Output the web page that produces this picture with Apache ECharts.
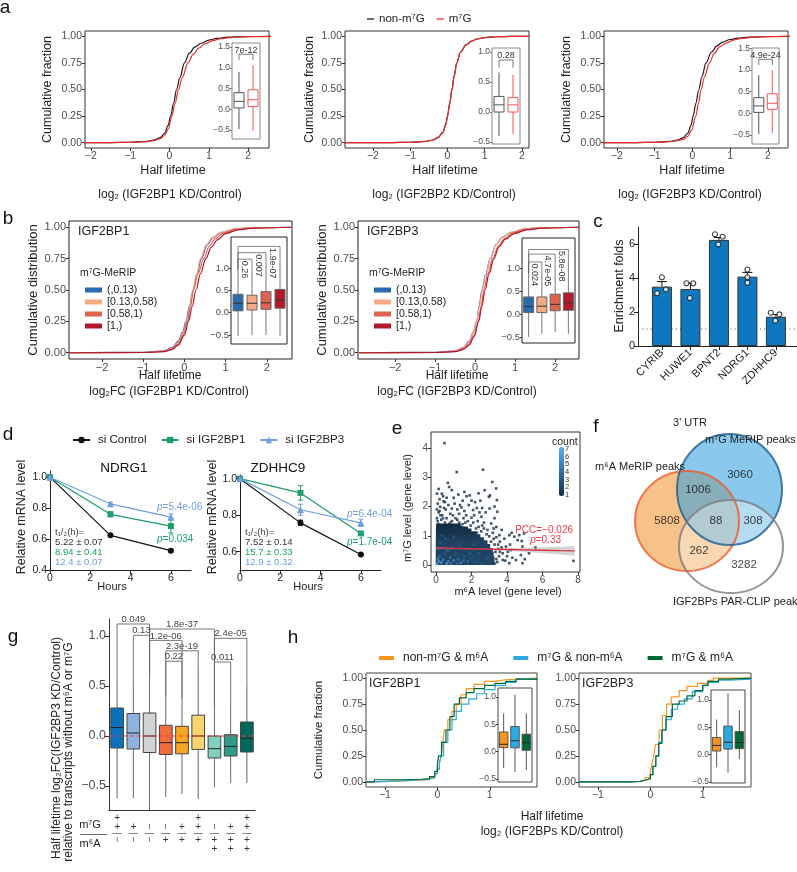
<!DOCTYPE html>
<html><head><meta charset="utf-8">
<script src="https://cdn.jsdelivr.net/npm/echarts@6/dist/echarts.min.js"></script>
<style>html,body{margin:0;padding:0;background:#fff}#c{width:797px;height:872px}</style>
</head><body><div id="c"></div><script>
// ================= DATA =================
// Panel a: ECDF of half-life change (x = log2 ratio, F = cumulative fraction)
const a1NonX=[-2.2,-1.5,-1,-0.6,-0.4,-0.25,-0.12,-0.04,0.03,0.1,0.18,0.26,0.38,0.5,0.65,0.8,1.0,1.2,1.5,1.9,2.6];
const a1NonF=[0,0.001,0.004,0.012,0.025,0.045,0.09,0.16,0.25,0.37,0.5,0.61,0.75,0.84,0.9,0.935,0.965,0.98,0.992,0.998,1];
const a1M7X=[-2.2,-1.5,-1,-0.6,-0.4,-0.25,-0.12,-0.03,0.06,0.14,0.23,0.32,0.47,0.6,0.75,0.9,1.1,1.3,1.6,2.0,2.6];
const a1M7F=[0,0.001,0.003,0.01,0.02,0.037,0.07,0.13,0.25,0.37,0.5,0.61,0.75,0.83,0.89,0.93,0.96,0.978,0.99,0.997,1];
const a2NonX=[-2.8,-1.5,-1,-0.6,-0.4,-0.25,-0.12,-0.04,0.0,0.06,0.12,0.18,0.25,0.35,0.5,0.65,0.8,1.0,1.3,1.7,2.2];
const a2NonF=[0,0.001,0.004,0.012,0.025,0.05,0.1,0.18,0.25,0.37,0.5,0.63,0.75,0.85,0.92,0.955,0.975,0.988,0.996,0.999,1];
const a2M7X=[-2.8,-1.5,-1,-0.6,-0.4,-0.25,-0.12,-0.04,0.0,0.06,0.12,0.18,0.25,0.35,0.5,0.65,0.8,1.0,1.3,1.7,2.2];
const a2M7F=[0,0.001,0.004,0.011,0.023,0.048,0.095,0.17,0.24,0.36,0.49,0.62,0.75,0.85,0.92,0.955,0.975,0.988,0.996,0.999,1];
const a3NonX=[-2.4,-1.5,-1,-0.6,-0.4,-0.25,-0.12,-0.04,0.02,0.09,0.17,0.25,0.36,0.5,0.65,0.8,1.0,1.2,1.5,1.9,2.6];
const a3NonF=[0,0.001,0.004,0.012,0.025,0.045,0.09,0.16,0.25,0.37,0.5,0.62,0.75,0.85,0.91,0.945,0.97,0.983,0.993,0.998,1];
const a3M7X=[-2.4,-1.5,-1,-0.6,-0.4,-0.25,-0.12,-0.02,0.09,0.16,0.23,0.32,0.45,0.58,0.72,0.88,1.08,1.3,1.6,2.0,2.6];
const a3M7F=[0,0.001,0.003,0.009,0.018,0.032,0.06,0.12,0.25,0.37,0.5,0.62,0.75,0.84,0.9,0.935,0.965,0.98,0.992,0.998,1];
// inset boxplots [lowWhisker, Q1, median, Q3, highWhisker] for non-m7G, m7G
const a1Box=[[-0.48,0.03,0.19,0.40,0.9],[-0.52,0.065,0.23,0.47,1.06]];
const a2Box=[[-0.4,0.0,0.12,0.26,0.66],[-0.37,0.0,0.12,0.24,0.62]];
const a3Box=[[-0.48,0.02,0.17,0.36,0.88],[-0.46,0.09,0.23,0.45,1.0]];
const aPvals=['7e-12','0.28','4.9e-24'];
const aSeriesNames=['non-m⁷G','m⁷G'];

// Panel b: ECDF per m7G-MeRIP group
const bNames=['(,0.13)','[0.13,0.58)','[0.58,1)','[1,)'];
const b1X=[
 [-2.8,-1,-0.5,-0.3,-0.15,-0.05,0.04,0.12,0.21,0.3,0.41,0.55,0.7,0.9,1.2,1.6,2.6],
 [-2.8,-1,-0.5,-0.3,-0.15,-0.04,0.06,0.13,0.21,0.29,0.39,0.53,0.68,0.88,1.2,1.6,2.6],
 [-2.8,-1,-0.5,-0.3,-0.15,-0.03,0.075,0.15,0.22,0.33,0.47,0.6,0.75,0.95,1.25,1.7,2.6],
 [-2.8,-1,-0.5,-0.3,-0.15,0,0.1,0.19,0.28,0.39,0.52,0.65,0.8,1.0,1.3,1.7,2.6]];
const b1F=[
 [0,0.003,0.015,0.04,0.09,0.16,0.25,0.37,0.5,0.62,0.75,0.86,0.92,0.96,0.985,0.996,1],
 [0,0.003,0.012,0.035,0.08,0.15,0.25,0.37,0.5,0.62,0.75,0.86,0.92,0.96,0.985,0.996,1],
 [0,0.002,0.01,0.03,0.07,0.14,0.25,0.37,0.5,0.63,0.75,0.85,0.91,0.955,0.983,0.995,1],
 [0,0.002,0.008,0.025,0.06,0.14,0.25,0.37,0.5,0.63,0.75,0.84,0.9,0.95,0.98,0.994,1]];
const b2X=[
 [-2.9,-1,-0.5,-0.3,-0.15,-0.05,0.04,0.1,0.17,0.26,0.38,0.52,0.68,0.9,1.2,1.6,2.6],
 [-2.9,-1,-0.5,-0.3,-0.15,-0.05,0.04,0.11,0.18,0.27,0.38,0.52,0.68,0.9,1.2,1.6,2.6],
 [-2.9,-1,-0.5,-0.3,-0.15,-0.03,0.08,0.15,0.22,0.32,0.44,0.58,0.74,0.95,1.25,1.7,2.6],
 [-2.9,-1,-0.5,-0.3,-0.15,-0.02,0.09,0.17,0.25,0.35,0.47,0.6,0.76,0.98,1.3,1.7,2.6]];
const b2F=[
 [0,0.003,0.015,0.04,0.09,0.16,0.25,0.37,0.5,0.62,0.75,0.86,0.92,0.96,0.985,0.996,1],
 [0,0.003,0.013,0.037,0.085,0.155,0.25,0.37,0.5,0.62,0.75,0.86,0.92,0.96,0.985,0.996,1],
 [0,0.002,0.01,0.03,0.07,0.14,0.25,0.37,0.5,0.63,0.75,0.85,0.91,0.955,0.983,0.995,1],
 [0,0.002,0.008,0.025,0.06,0.13,0.25,0.37,0.5,0.63,0.75,0.845,0.905,0.95,0.98,0.994,1]];
const b1Box=[[-0.52,0.04,0.21,0.41,0.965],[-0.5,0.06,0.21,0.39,0.885],[-0.5,0.075,0.22,0.47,1.06],[-0.52,0.10,0.28,0.52,1.15]];
const b2Box=[[-0.49,0.04,0.17,0.38,0.9],[-0.42,0.04,0.18,0.38,0.9],[-0.38,0.08,0.22,0.44,1.0],[-0.42,0.09,0.25,0.47,1.05]];
// brackets: [groupA, groupB, yTop, p-value]
const b1Brackets=[[0,1,1.195,'0.26'],[0,2,1.34,'0.007'],[0,3,1.48,'1.9e-07']];
const b2Brackets=[[0,1,1.14,'0.024'],[0,2,1.31,'4.7e-05'],[0,3,1.41,'5.8e-08']];

// Panel c: enrichment folds
const cGenes=['CYRIB','HUWE1','BPNT2','NDRG1','ZDHHC9'];
const cMeans=[3.49,3.35,6.24,4.08,1.72];
const cErr=[0.3,0.35,0.14,0.25,0.13];
const cPoints=[[0.83,3.1],[1.0,4.04],[1.14,3.33],[1.86,3.69],[2.1,3.69],[1.98,2.82],[2.86,6.57],[3.13,6.43],[2.98,5.98],[4.0,4.5],[4.0,4.04],[4.0,3.72],[4.82,1.96],[5.12,1.86],[4.98,1.49]];

// Panel d: decay curves
const dHours=[0,3,6];
const dNdrgCtrl=[1.0,0.624,0.525], dNdrgCtrlErr=[0,0.008,0.008];
const dNdrgP1=[1.0,0.76,0.684], dNdrgP1Err=[0,0.015,0.045];
const dNdrgP3=[1.0,0.828,0.742], dNdrgP3Err=[0,0.008,0.02];
const dZdhCtrl=[1.0,0.758,0.585], dZdhCtrlErr=[0,0.015,0.006];
const dZdhP1=[1.0,0.922,0.70], dZdhP1Err=[0,0.04,0.008];
const dZdhP3=[1.0,0.83,0.758], dZdhP3Err=[0,0.03,0.02];
const dNames=['si Control','si IGF2BP1','si IGF2BP3'];
const dNdrgT=['5.22 ± 0.07','8.94 ± 0.41','12.4 ± 0.07'];
const dZdhT=['7.52 ± 0.14','15.7 ± 0.33','12.9 ± 0.32'];

// Panel e: binned scatter [m6A, m7G, count]
const ePoints=[[0.48,4.17,1],[1.17,3.18,1],[2.65,3.26,1],[3.17,2.84,1],[3.39,2.62,1],[3.43,2.22,1],[3.45,1.82,1],
 [0.67,2.81,1],[0.74,2.67,1],[0.89,2.56,1],[2.74,2.56,1],[0.06,2.44,1],[0.33,2.44,1],[1.72,2.35,1],[2.98,2.33,1],[1.26,2.41,1],[1.9,2.38,1],[3.04,2.38,1],
 [0.43,2.18,1],[0.24,1.99,1],[0.89,1.93,1],[1.44,1.97,1],[2.09,1.88,1],[2.56,1.65,1],[3.02,1.93,1],[3.11,1.42,1],
 [0.1,2.1,1],[0.15,1.8,1],[0.55,1.9,1],[0.7,2.05,1],[1.05,2.1,1],[1.3,1.75,1],[1.6,1.85,1],[1.85,2.05,1],[2.3,1.95,1],[2.5,2.2,1],[0.05,1.6,1],[0.35,1.7,1],[0.8,1.75,1],[1.1,1.6,1],[1.55,1.6,1],[2.0,1.62,1],[2.35,1.5,1],[2.7,1.45,1],[0.2,2.25,1],[0.6,2.3,1],[1.5,2.2,1],[2.2,2.15,1],[2.8,1.8,1],[2.9,1.2,1],[3.2,1.1,1],[3.0,0.98,1],
 [3.57,1.02,1],[4.13,1.02,1],[4.41,0.97,1],[4.69,1.02,1],[4.96,1.08,1],[4.26,1.1,1],[4.6,0.85,1],[4.17,0.7,1],[4.83,0.82,1],[3.94,0.63,1],[3.76,0.4,1],[4.22,0.51,1],[4.5,0.17,1],[4.87,0.06,1],[5.24,0.4,1],[4.87,0.63,1],[4.78,0.34,1],[4.13,0.06,1],[3.76,0.17,1],[3.6,0.8,1],[3.5,0.55,1],[3.55,0.3,1],[3.45,0.1,1],[3.85,0.9,1],[4.0,0.3,1],[4.3,0.25,1],[5.0,0.2,1],[7.74,0.14,1],[3.4,1.3,1],[3.7,1.2,1],[5.6,0.6,1],
 [3.3,0.7,1],[3.35,0.45,1],[3.25,0.9,1],[2.7,1.25,1],[2.4,1.3,1],[2.1,1.45,1],[1.8,1.5,1],[1.3,1.45,1],[0.9,1.5,1],[0.5,1.45,1],[0.15,1.4,1],[2.85,1.05,1],[3.1,0.8,1],
 [0.1,1.5,1],[0.3,1.55,1],[0.6,1.6,1],[0.75,1.4,1],[1.0,1.35,1],[1.2,1.55,1],[1.45,1.3,1],[1.65,1.45,1],[1.95,1.35,1],[2.25,1.25,1],[2.55,1.15,1],[2.6,1.35,1],[0.2,1.85,1],[0.45,1.95,1],[0.95,1.7,1],[1.2,1.9,1],[1.7,1.7,1],[2.15,1.7,1],[2.45,1.8,1],[0.05,1.9,1],[0.5,2.15,1],[1.35,2.05,1],[2.0,2.2,1],[2.6,1.95,1],[3.3,1.6,1],[3.3,2.0,1],[0.15,2.6,1],[0.4,2.35,1],[1.0,2.3,1],[1.6,2.5,1],[2.4,2.45,1],[3.25,1.25,1],[3.4,0.95,1],[3.5,0.7,1],[3.6,0.45,1],[3.4,0.2,1],[3.7,0.6,1],[3.9,0.15,1],[4.05,0.45,1],[3.3,0.05,1],
 [0.4,1.6,2],[0.8,1.45,2],[1.5,1.4,2],[0.25,1.7,2],[2.3,1.1,2],[1.1,1.25,2],
 [0.05,0.03,7],[0.3,0.08,6],[0.6,0.05,6],[1.0,0.15,5],[0.2,0.3,4],[1.4,0.08,5],[0.8,0.25,4],[1.8,0.12,4],[0.5,0.4,3],[1.1,0.35,3],[2.2,0.1,3],[0.1,0.55,3],[1.6,0.3,3],[0.9,0.6,3],[0.4,0.18,5],[1.2,0.05,4],[0.7,0.12,5],[2.6,0.05,3],[0.15,0.12,6],[1.9,0.4,3],
 [0.25,0.75,3],[0.55,0.9,3],[1.3,0.7,3],[1.7,0.55,3],[2.0,0.25,3],[2.4,0.4,3],[0.35,1.0,3],[1.0,0.95,3],[0.65,0.5,4],[1.25,0.2,4],[0.1,0.2,5],[0.85,0.05,5],[1.55,0.15,4],[2.9,0.2,3],[2.1,0.7,3]];
// dense core bins [x0, y0, count, x1, y1] (nested from the axis origin)
const eDense=[[0,0,1.1,1.4,1.42],[0,0,1.2,1.8,1.32],[0,0,1.3,2.0,1.25],[0,0,1.4,2.3,1.15],[0,0,1.6,2.5,1.05],[0,0,1.8,2.7,0.95],[0,0,2,2.9,0.85],[0,0,2,3.05,0.72],[0,0,2.1,3.2,0.58],[0,0,2.1,3.25,0.45],[0,0,2.2,3.3,0.3]];
const eFitX=[0,1,2,3,4,5,6,7,7.8];
const eFitY=[0.58,0.567,0.555,0.542,0.53,0.517,0.505,0.49,0.48];
const eFitSE=[0.04,0.025,0.02,0.025,0.045,0.07,0.1,0.13,0.16];
const eCountTicks=[1,2,3,4,5,6,7];

// Panel f: Venn counts
const vennCounts=[3060,1006,5808,88,308,262,3282];

// Panel g: boxplots
const gStats=[[-0.62,-0.12,0.085,0.28,0.55],[-0.62,-0.13,0.03,0.225,0.5],[-0.74,-0.165,0.0,0.23,0.62],[-0.61,-0.185,-0.067,0.107,0.4],[-0.58,-0.178,-0.067,0.097,0.38],[-0.63,-0.134,0.0,0.208,0.68],[-0.51,-0.22,-0.127,0.0,0.3],[-0.47,-0.2,-0.104,0.013,0.32],[-0.47,-0.16,-0.023,0.14,0.52]];
const gM7G=['++','+','−','−','+','++','−','+','++'];
const gM6A=['−','−','−','+','+','+','++','++','++'];
const gBrackets=[[0,2,1.12,'0.049'],[1,2,1.007,'0.13'],[2,6,1.07,'1.8e-37'],[2,4,0.956,'1.2e-06'],[3,5,0.852,'2.3e-19'],[3,4,0.748,'0.22'],[6,8,0.977,'2.4e-05'],[6,7,0.74,'0.011']];

// Panel h: step ECDFs
const hNames=['non-m⁷G & m⁶A','m⁷G & non-m⁶A','m⁷G & m⁶A'];
const h1X=[
 [-1.36,-1.2,-0.7,-0.3,-0.15,-0.05,0,0.04,0.075,0.1,0.135,0.2,0.28,0.36,0.45,0.55,0.7,0.9,1.1,1.3,1.9],
 [-1.36,-1.2,-0.7,-0.3,-0.15,-0.05,0,0.04,0.07,0.12,0.2,0.28,0.36,0.46,0.6,0.75,0.9,1.1,1.3,1.5,1.9],
 [-1.36,-1.2,-0.7,-0.3,-0.15,-0.05,0,0.025,0.08,0.165,0.24,0.32,0.42,0.55,0.7,0.9,1.1,1.3,1.5,1.9]];
const h1F=[
 [0,0.01,0.015,0.02,0.04,0.08,0.13,0.19,0.25,0.36,0.5,0.6,0.68,0.75,0.84,0.9,0.94,0.97,0.985,1,1],
 [0,0.01,0.02,0.025,0.04,0.08,0.12,0.18,0.25,0.38,0.5,0.6,0.68,0.75,0.8,0.85,0.89,0.93,0.96,0.99,1],
 [0,0.02,0.025,0.03,0.05,0.1,0.17,0.25,0.38,0.5,0.63,0.75,0.81,0.86,0.9,0.93,0.95,0.97,0.99,1]];
const h2X=[
 [-1.36,-0.4,-0.2,-0.1,0,0.03,0.065,0.1,0.167,0.23,0.31,0.4,0.55,0.7,0.9,1.1,1.2,1.92],
 [-1.36,-0.4,-0.2,-0.1,0,0.05,0.1,0.16,0.226,0.3,0.4,0.52,0.65,0.8,1.0,1.1,1.3,1.5,1.92],
 [-1.36,-0.4,-0.2,-0.1,0,0.05,0.107,0.16,0.22,0.3,0.42,0.55,0.7,0.85,1.0,1.1,1.3,1.5,1.92]];
const h2F=[
 [0,0.005,0.02,0.04,0.1,0.17,0.25,0.36,0.5,0.64,0.75,0.82,0.88,0.92,0.95,0.98,1,1],
 [0,0.003,0.015,0.03,0.07,0.15,0.25,0.38,0.5,0.6,0.7,0.75,0.8,0.87,0.93,0.96,0.98,0.99,1],
 [0,0.003,0.015,0.03,0.07,0.15,0.25,0.37,0.5,0.63,0.75,0.78,0.83,0.88,0.93,0.97,0.99,1,1]];
const h1Box=[[-0.3,0.075,0.135,0.36,0.7],[-0.37,0.07,0.2,0.46,1.04],[-0.34,0.025,0.165,0.32,0.7]];
const h2Box=[[-0.23,0.065,0.167,0.31,0.64],[-0.33,0.1,0.226,0.52,1.12],[-0.08,0.107,0.22,0.42,0.81]];

// ================= BUILD =================
const FONT="'Liberation Sans', Arial, Helvetica, sans-serif";
const grids=[], xAxes=[], yAxes=[], series=[], graphic=[], legends=[];
const zip=(xs,ys)=>xs.map((x,i)=>[x,ys[i]]);
const fmtN=d=>(v=>(v<0?'−':'')+Math.abs(v).toFixed(d));
function addGrid(l,t,w,h,border){grids.push({left:l,top:t,width:w,height:h,show:!!border,borderColor:border||'#000',borderWidth:1,backgroundColor:'rgba(0,0,0,0)'});return grids.length-1;}
function addAxis(arr,gi,min,max,ticks,o){o=o||{};arr.push({type:'value',gridIndex:gi,min:min,max:max,show:o.show!==false,inverse:!!o.inverse,
  axisLine:{show:!!o.line,onZero:false,lineStyle:{color:o.lineColor||'#333',width:o.lw||1}},
  axisTick:{show:!!ticks&&o.tick!==false,length:o.tl||3,customValues:ticks||undefined,lineStyle:{color:o.tc||'#333',width:1}},
  axisLabel:{show:!!ticks&&o.label!==false,customValues:ticks||undefined,fontSize:o.fs||10,color:o.lc||'#4d4d4d',fontFamily:FONT,margin:o.m==null?3:o.m,formatter:o.fmt,rotate:o.rot||0,rich:o.rich},
  splitLine:{show:false},splitArea:{show:false}});return arr.length-1;}
function plot(rect,border,xr,yr){const gi=addGrid(rect[0],rect[1],rect[2],rect[3],border);
  const xi=addAxis(xAxes,gi,xr[0],xr[1],xr[2],xr[3]);const yi=addAxis(yAxes,gi,yr[0],yr[1],yr[2],yr[3]);return {gi,xi,yi};}
function addSeries(s){series.push(s);return series.length-1;}
function ecdf(p,xs,fs,color,name,o){o=o||{};return addSeries({type:'line',name:name,xAxisIndex:p.xi,yAxisIndex:p.yi,data:zip(xs,fs),showSymbol:false,symbol:'none',
  smooth:o.step?false:0.35,smoothMonotone:'x',step:o.step||false,lineStyle:{color:color,width:o.lw||1.2},itemStyle:{color:color},silent:true,z:3});}
function boxes(p,stats,styles,w,o){o=o||{};return addSeries({type:'custom',xAxisIndex:p.xi,yAxisIndex:p.yi,silent:true,z:4,
  data:stats.map((s,i)=>[i].concat(s)),encode:{x:0,y:[1,2,3,4,5]},
  renderItem:(params,api)=>{const st=styles[params.dataIndex];const i=api.value(0);
    const lo=api.coord([i,api.value(1)]),q1=api.coord([i,api.value(2)]),md=api.coord([i,api.value(3)]),q3=api.coord([i,api.value(4)]),hi=api.coord([i,api.value(5)]);
    const x=lo[0],hw=w/2,wl=st.wl||st.line;
    return {type:'group',children:[
      {type:'line',shape:{x1:x,y1:hi[1],x2:x,y2:q3[1]},style:{stroke:wl,lineWidth:1}},
      {type:'line',shape:{x1:x,y1:q1[1],x2:x,y2:lo[1]},style:{stroke:wl,lineWidth:1}},
      {type:'rect',shape:{x:x-hw,y:q3[1],width:w,height:q1[1]-q3[1]},style:{fill:st.fill,stroke:st.line,lineWidth:1}},
      {type:'line',shape:{x1:x-hw,y1:md[1],x2:x+hw,y2:md[1]},style:{stroke:st.med||st.line,lineWidth:st.mlw||1}}]};}});}
function brackets(p,list,legBottoms,o){return addSeries({type:'custom',xAxisIndex:p.xi,yAxisIndex:p.yi,silent:true,z:5,
  data:list.map(b=>[b[0],b[2]]),encode:{x:0,y:1},
  renderItem:(params,api)=>{const b=list[params.dataIndex];const lb=legBottoms[params.dataIndex];
    const p1=api.coord([b[0],lb[0]]),p2=api.coord([b[0],b[2]]),p3=api.coord([b[1],b[2]]),p4=api.coord([b[1],lb[1]]);
    const line={type:'polyline',shape:{points:[p1,p2,p3,p4]},style:{stroke:o.color,lineWidth:o.lw||0.8,fill:'none'}};
    let txt;
    if(o.rot){const q=api.coord([b[1]-o.rotOff,b[2]]);txt={type:'text',x:q[0],y:q[1]+1.5,rotation:-Math.PI/2,style:{text:b[3],fill:o.tcolor,fontSize:o.fs,fontFamily:FONT,align:'left',verticalAlign:'middle'}};}
    else {txt={type:'text',x:(p2[0]+p3[0])/2,y:p2[1]+0.5,style:{text:b[3],fill:o.tcolor,fontSize:o.fs,fontFamily:FONT,align:'center',verticalAlign:'bottom'}};}
    return {type:'group',children:[line,txt]};}});}
function errbars(p,xs,ys,es,color,cap,upOnly){return addSeries({type:'custom',xAxisIndex:p.xi,yAxisIndex:p.yi,silent:true,z:4,
  data:xs.map((x,i)=>[x,ys[i],es[i]]),encode:{x:0,y:1},
  renderItem:(params,api)=>{const x=api.value(0),y=api.value(1),e=api.value(2);if(!e)return null;
    const t=api.coord([x,y+e]),b=api.coord(upOnly?[x,y]:[x,y-e]),hw=cap/2;
    const ch=[{type:'line',shape:{x1:t[0],y1:t[1],x2:b[0],y2:b[1]},style:{stroke:color,lineWidth:1}},
      {type:'line',shape:{x1:t[0]-hw,y1:t[1],x2:t[0]+hw,y2:t[1]},style:{stroke:color,lineWidth:1}}];
    if(!upOnly)ch.push({type:'line',shape:{x1:b[0]-hw,y1:b[1],x2:b[0]+hw,y2:b[1]},style:{stroke:color,lineWidth:1}});
    return {type:'group',children:ch};}});}
function T(x,y,text,o){o=o||{};graphic.push({type:'text',x:x,y:y,rotation:o.rot||0,silent:true,z:10,
  style:{text:text,fill:o.color||'#222',fontSize:o.fs||12,fontFamily:FONT,fontStyle:o.italic?'italic':'normal',align:o.align||'left',verticalAlign:o.va||'middle',rich:o.rich}});}
function L(x1,y1,x2,y2,color,w){graphic.push({type:'line',silent:true,shape:{x1,y1,x2,y2},style:{stroke:color||'#333',lineWidth:w||1}});}

// ---------- panel a ----------
const aCfg=[
 {rect:[85,31,184,117],xr:[-2.15,2.53],inset:[232,43,28,96],iy:[-0.72,1.6],it:[-0.5,0,0.5,1,1.5],br:[1.33,1.19],tx:173,ty:48,lx:170,label:'IGF2BP1'},
 {rect:[345,31,184,117],xr:[-2.75,2.19],inset:[492,48,28,96],iy:[-0.533,1.067],it:[-0.5,0,0.5,1],br:[0.867,0.74],tx:445,ty:310,lx:444,label:'IGF2BP2'},
 {rect:[604,31,184,117],xr:[-2.34,2.53],inset:[752,48,27,96],iy:[-0.71,1.507],it:[-0.5,0,0.5,1,1.5],br:[1.246,1.115],tx:692,ty:567,lx:690,label:'IGF2BP3'}];
const aCurves=[[a1NonX,a1NonF,a1M7X,a1M7F],[a2NonX,a2NonF,a2M7X,a2M7F],[a3NonX,a3NonF,a3M7X,a3M7F]];
const aBoxes=[a1Box,a2Box,a3Box];
aCfg.forEach((c,k)=>{
  const p=plot(c.rect,'#333',[c.xr[0],c.xr[1],[-2,-1,0,1,2],{fmt:fmtN(0),fs:10.5}],[-0.05,1.05,[0,0.25,0.5,0.75,1],{fmt:fmtN(2),fs:10.5}]);
  ecdf(p,aCurves[k][0],aCurves[k][1],'#1a1a1a',aSeriesNames[0]);
  ecdf(p,aCurves[k][2],aCurves[k][3],'#ee2a2a',aSeriesNames[1]);
  const q=plot(c.inset,'#8a8a8a',[-0.5,1.5,null,{show:false}],[c.iy[0],c.iy[1],c.it,{fmt:fmtN(1),fs:8.5,tl:2,m:2,tc:'#777'}]);
  boxes(q,aBoxes[k],[{fill:'#fff',line:'#555'},{fill:'#fff',line:'#f0585a'}],10);
  brackets(q,[[0,1,c.br[0],aPvals[k]]],[[c.br[1],c.br[1]]],{color:'#555',fs:9,tcolor:'#333'});
  T(c.ty,89.5,'Cumulative fraction',{rot:Math.PI/2,align:'center',fs:12.5});
  T(c.tx,171,'Half lifetime',{align:'center',fs:12.5});
  T(c.lx,195,'log₂ ('+c.label+' KD/Control)',{align:'center',fs:12});
});
legends.push({data:aSeriesNames,left:362,top:8,icon:'rect',itemWidth:7,itemHeight:1.3,itemGap:12,selectedMode:false,textStyle:{fontSize:11.5,color:'#222',fontFamily:FONT}});

// ---------- panel b ----------
const bColors=['#2a6bb0','#f6a985','#df634e','#b3192c'];
const bCfg=[
 {rect:[69,221,223,138],xr:[-2.8,2.61],inset:[231,237,56,107],iy:[-0.70,1.69],X:b1X,F:b1F,box:b1Box,br:b1Brackets,name:'IGF2BP1',ty:33,tx:170,lx:169},
 {rect:[358,221,221,138],xr:[-2.93,2.6],inset:[522,238,53,105],iy:[-0.62,1.66],X:b2X,F:b2F,box:b2Box,br:b2Brackets,name:'IGF2BP3',ty:322,tx:457,lx:457}];
bCfg.forEach((c,k)=>{
  const p=plot(c.rect,'#222',[c.xr[0],c.xr[1],[-2,-1,0,1,2],{fmt:fmtN(0),fs:11}],[-0.05,1.05,[0,0.25,0.5,0.75,1],{fmt:fmtN(2),fs:11}]);
  for(let j=0;j<4;j++)ecdf(p,c.X[j],c.F[j],bColors[j],bNames[j]);
  const q=plot(c.inset,'#222',[-0.5,3.5,null,{show:false}],[c.iy[0],c.iy[1],[-0.5,0,0.5,1],{fmt:fmtN(1),fs:9.5,tl:2,m:2}]);
  boxes(q,c.box,bColors.map(col=>({fill:col,line:'#666',wl:'#777',med:'#333'})),10);
  brackets(q,c.br,c.br.map(b=>[c.box[b[0]][4],c.box[b[1]][4]]),{color:'#666',fs:9,tcolor:'#333',rot:true,rotOff:0.55});
  T(c.rect[0]+9,232,c.name,{fs:12.5,color:'#222'});
  T(c.rect[0]+11,273,'m⁷G-MeRIP',{fs:10.5,color:'#222'});
  legends.push({data:bNames,orient:'vertical',left:c.rect[0]+11,top:279,icon:'rect',itemWidth:17,itemHeight:5,itemGap:0,selectedMode:false,textStyle:{fontSize:10.5,lineHeight:12,color:'#222',fontFamily:FONT}});
  T(c.ty,290,'Cumulative distribution',{rot:Math.PI/2,align:'center',fs:13});
  T(c.tx,376,'Half lifetime',{align:'center',fs:12});
  T(c.lx,392,'log₂FC ('+c.name+' KD/Control)',{align:'center',fs:12});
});

// ---------- panel c ----------
{
  const p=plot([638,227,159,119],null,[0.16,5.74,[1,2,3,4,5],{fmt:v=>cGenes[Math.round(v)-1],rot:45,fs:11,lc:'#222',line:true,lineColor:'#222',m:5,tl:4,tc:'#222'}],
    [0,7,[0,2,4,6],{fmt:fmtN(0),fs:11,lc:'#222',line:true,lineColor:'#222',tl:4,tc:'#222'}]);
  addSeries({type:'line',xAxisIndex:p.xi,yAxisIndex:p.yi,data:[[0.16,1],[5.74,1]],symbol:'none',silent:true,lineStyle:{color:'#666',width:1,type:[1.2,3]},z:2});
  addSeries({type:'bar',xAxisIndex:p.xi,yAxisIndex:p.yi,data:cMeans.map((v,i)=>[i+1,v]),barWidth:20,silent:true,itemStyle:{color:'#0d78c0',borderColor:'#333',borderWidth:1},z:3});
  errbars(p,cMeans.map((v,i)=>i+1),cMeans,cErr,'#111',10,true);
  addSeries({type:'scatter',xAxisIndex:p.xi,yAxisIndex:p.yi,data:cPoints,symbol:'circle',symbolSize:5,silent:true,itemStyle:{color:'#fff',borderColor:'#111',borderWidth:1.1},z:6});
  T(620,286,'Enrichment folds',{rot:Math.PI/2,align:'center',fs:12.5});
}

// ---------- panel d ----------
const dColors=['#111','#1b9f6b','#6f9fdf'];
const dSymbols=['circle','rect','triangle'];
const dCfg=[
 {rect:[50,471,141,99],yr:[0.4,1.04],yt:[0.4,0.6,0.8,1.0],title:'NDRG1',tx:124,ser:[[dNdrgCtrl,dNdrgCtrlErr],[dNdrgP1,dNdrgP1Err],[dNdrgP3,dNdrgP3Err]],T:dNdrgT,ylab:22,hx:112},
 {rect:[240,475,141,95],yr:[0.5,1.02],yt:[0.6,0.8,1.0],title:'ZDHHC9',tx:278,ser:[[dZdhCtrl,dZdhCtrlErr],[dZdhP1,dZdhP1Err],[dZdhP3,dZdhP3Err]],T:dZdhT,ylab:213,hx:308}];
dCfg.forEach((c,k)=>{
  const p=plot(c.rect,null,[0,7,[0,2,4,6],{fmt:fmtN(0),fs:10.5,lc:'#222',line:true,lineColor:'#222',tl:4,tc:'#222'}],
    [c.yr[0],c.yr[1],c.yt,{fmt:fmtN(1),fs:10.5,lc:'#222',line:true,lineColor:'#222',tl:4,tc:'#222'}]);
  c.ser.forEach((s,j)=>{
    addSeries({type:'line',name:dNames[j],xAxisIndex:p.xi,yAxisIndex:p.yi,data:zip(dHours,s[0]),symbol:dSymbols[j],symbolSize:j===2?7:6,showSymbol:true,silent:true,
      lineStyle:{color:dColors[j],width:1.2},itemStyle:{color:dColors[j]},z:3+j});
    errbars(p,dHours,s[0],s[1],dColors[j],5,false);
  });
  T(c.tx,468,c.title,{align:'center',fs:13.5,color:'#111'});
  T(c.ylab,517,'Relative mRNA level',{rot:Math.PI/2,align:'center',fs:12.5});
  T(c.hx,587,'Hours',{align:'center',fs:11});
  const x0=c.rect[0]+5;
  T(x0,532,'t₁/₂(h)=',{fs:9.5,color:'#444'});
  T(x0,542,c.T[0],{fs:9.5,color:'#333'});
  T(x0,552,c.T[1],{fs:9.5,color:dColors[1]});
  T(x0,562,c.T[2],{fs:9.5,color:dColors[2]});
});
const itRich=col=>({i:{fontStyle:'italic',fontSize:10,fill:col,fontFamily:FONT}});
T(157,507,'{i|p}=5.4e-06',{fs:10,color:dColors[2],rich:itRich(dColors[2])});
T(157,539,'{i|p}=0.034',{fs:10,color:dColors[1],rich:itRich(dColors[1])});
T(347,514,'{i|p}=6.4e-04',{fs:10,color:dColors[2],rich:itRich(dColors[2])});
T(347,542,'{i|p}=1.7e-04',{fs:10,color:dColors[1],rich:itRich(dColors[1])});
legends.push({data:dNames,left:67,top:429,itemWidth:17,itemHeight:8,itemGap:14,selectedMode:false,textStyle:{fontSize:11.5,color:'#222',fontFamily:FONT,padding:[0,0,0,3]}});

// ---------- panel e ----------
let eDenseIdx, ePtsIdx;
{
  const p=plot([431,432,149,140],'#333',[-0.28,8.11,[0,2,4,6,8],{fmt:fmtN(0),fs:10}],[-0.24,4.55,[0,1,2,3,4],{fmt:fmtN(0),fs:10}]);
  eDenseIdx=addSeries({type:'custom',xAxisIndex:p.xi,yAxisIndex:p.yi,silent:true,z:2,data:eDense,encode:{x:[0,3],y:[1,4]},
    renderItem:(params,api)=>{const a=api.coord([api.value(0),api.value(1)]),b=api.coord([api.value(3),api.value(4)]);
      return {type:'rect',shape:{x:a[0],y:b[1],width:b[0]-a[0],height:a[1]-b[1]},style:{fill:api.visual('color')}};}});
  ePtsIdx=addSeries({type:'scatter',xAxisIndex:p.xi,yAxisIndex:p.yi,data:ePoints,symbol:'rect',symbolSize:[2.6,2.6],silent:true,z:3});
  addSeries({type:'custom',xAxisIndex:p.xi,yAxisIndex:p.yi,silent:true,z:4,data:[[0,0.5]],encode:{x:0,y:1},
    renderItem:(params,api)=>{const up=eFitX.map((x,i)=>api.coord([x,eFitY[i]+eFitSE[i]]));const lo=eFitX.map((x,i)=>api.coord([x,eFitY[i]-eFitSE[i]])).reverse();
      return {type:'polygon',shape:{points:up.concat(lo)},style:{fill:'rgba(160,160,160,0.45)'}};}});
  addSeries({type:'line',xAxisIndex:p.xi,yAxisIndex:p.yi,data:zip(eFitX,eFitY),symbol:'none',silent:true,lineStyle:{color:'#d9303c',width:1.3},z:5});
  T(573,530,'PCC=−0.026',{align:'right',fs:10,color:'#ee3b45'});
  T(561,540,'{i|p}=0.33',{align:'right',fs:10,color:'#ee3b45',rich:itRich('#ee3b45')});
  T(552,442,'count',{fs:10.5});
  eCountTicks.forEach(v=>T(565,495-(v-1)*7.7,String(v),{fs:7.5,color:'#333'}));
  T(408,508,'m⁷G level (gene level)',{rot:Math.PI/2,align:'center',fs:11});
  T(508,592,'m⁶A level (gene level)',{align:'center',fs:11});
}

// ---------- panel f (Venn) ----------
{
  const p=plot([590,415,207,190],null,[0,207,null,{show:false}],[0,190,null,{show:false,inverse:true}]);
  const circ=[{c:[97,106],s:[104,100]},{c:[139.5,74.5],s:[105,111]},{c:[141,131.5],s:[104,93]}];
  const fills=['#f5b36c','rgba(47,159,223,0.7)','rgba(255,255,255,0.45)'];
  const strokes=['#f05a28','#1c5d8c','#7d7d7d'];
  addSeries({type:'scatter',xAxisIndex:p.xi,yAxisIndex:p.yi,silent:true,z:2,symbol:'circle',
    data:circ.map((o,i)=>({value:o.c,symbolSize:o.s,itemStyle:{color:fills[i]}}))});
  addSeries({type:'scatter',xAxisIndex:p.xi,yAxisIndex:p.yi,silent:true,z:3,symbol:'circle',
    data:circ.map((o,i)=>({value:o.c,symbolSize:o.s,itemStyle:{color:'rgba(0,0,0,0)',borderColor:strokes[i],borderWidth:2}}))});
  const pos=[[150,60],[108,75],[77,106],[126,106],[163,106],[109,136],[154,150]];
  addSeries({type:'scatter',xAxisIndex:p.xi,yAxisIndex:p.yi,silent:true,z:4,symbolSize:1,itemStyle:{color:'rgba(0,0,0,0)'},
    data:pos.map(q=>({value:q})),label:{show:true,position:'inside',formatter:pp=>String(vennCounts[pp.dataIndex]),fontSize:11.5,color:'#111',fontFamily:FONT}});
  T(690,423,"3' UTR",{align:'center',fs:11});
  T(705,440,'m⁷G MeRIP peaks',{fs:11});
  T(595,467,'m⁶A MeRIP peaks',{fs:11});
  T(673,602,'IGF2BPs PAR-CLIP peaks',{fs:11});
}

// ---------- panel g ----------
{
  const gColors=['#0a72ba','#8fb1e0','#d2d2d2','#f26d3d','#f6a623','#f8d56f','#7fd0bf','#2e9a8a','#00685a'];
  const m7=(s,r)=> s==='++'?'{a|+}':(r===0?'{a|\u00a0}':(s==='+'?'{a|+}':'{v|I}'));
  const m6=(s,r)=> s==='++'?'{a|+}':(r===1?'{a|\u00a0}':(s==='+'?'{a|+}':'{v|I}'));
  const p=plot([109,619,146,191],null,
    [-0.5,8.5,[0,1,2,3,4,5,6,7,8],{tick:false,line:true,lineColor:'#333',m:4,fmt:v=>{const i=Math.round(v);return m7(gM7G[i],0)+'\n'+m7(gM7G[i],1)+'\n{s|—}\n'+m6(gM6A[i],0)+'\n'+m6(gM6A[i],1);},
      rich:{a:{fontSize:10,lineHeight:9,color:'#333',fontFamily:FONT},v:{fontSize:6.5,lineHeight:9,color:'#333',fontFamily:FONT},s:{fontSize:9,lineHeight:4,color:'#333',fontFamily:FONT}}}],
    [-0.74,1.17,[-0.5,0,0.5,1],{fmt:fmtN(1),fs:12.5,line:true,lineColor:'#333',tl:4}]);
  boxes(p,gStats,gColors.map(col=>({fill:col,line:'#444',wl:'#666',med:'#222'})),12.7);
  brackets(p,gBrackets,gBrackets.map(b=>[gStats[b[0]][4],gStats[b[1]][4]]),{color:'#666',fs:9.5,tcolor:'#444',lw:0.9});
  addSeries({type:'line',xAxisIndex:p.xi,yAxisIndex:p.yi,data:[[-0.5,0],[8.5,0]],symbol:'none',silent:true,lineStyle:{color:'#e23b3b',width:1,type:[4,3]},z:6});
  T(57,748,'Half lifetime log₂FC(IGF2BP3 KD/Control)',{rot:Math.PI/2,align:'center',fs:12});
  T(69,752,'relative to transcripts without m⁶A or m⁷G',{rot:Math.PI/2,align:'center',fs:12});
  T(90,825,'m⁷G',{align:'center',fs:11});
  T(90,844,'m⁶A',{align:'center',fs:11});
  L(80,834.5,107,834.5,'#444',0.8);
}

// ---------- panel h ----------
const hColors=['#f7931e','#29abe2','#006837'];
const hCfg=[
 {rect:[366,673,171,114],xr:[-1.36,1.9],inset:[498,688,34,94],iy:[-0.555,1.165],X:h1X,F:h1F,box:h1Box,name:'IGF2BP1'},
 {rect:[579,673,172,114],xr:[-1.36,1.92],inset:[711,690,34,93],iy:[-0.52,1.18],X:h2X,F:h2F,box:h2Box,name:'IGF2BP3'}];
hCfg.forEach(c=>{
  const p=plot(c.rect,'#444',[c.xr[0],c.xr[1],[-1,0,1],{fmt:fmtN(0),fs:10.5}],[-0.05,1.05,[0,0.25,0.5,0.75,1],{fmt:fmtN(2),fs:10.5}]);
  for(let j=0;j<3;j++)ecdf(p,c.X[j],c.F[j],hColors[j],hNames[j],{step:'end',lw:1.2});
  const q=plot(c.inset,'#444',[-0.5,2.5,null,{show:false}],[c.iy[0],c.iy[1],[-0.5,0,0.5,1],{fmt:fmtN(1),fs:8.5,tl:2,m:2}]);
  boxes(q,c.box,hColors.map(col=>({fill:col,line:'#555',wl:'#555',med:'#222'})),8.5);
  T(c.rect[0]+3,684,c.name,{fs:12.5});
});
T(319,730,'Cumulative fraction',{rot:Math.PI/2,align:'center',fs:11.5});
T(552,817,'Half lifetime',{align:'center',fs:12});
T(552,832,'log₂ (IGF2BPs KD/Control)',{align:'center',fs:12});
legends.push({data:hNames,left:374,top:647,icon:'rect',itemWidth:15,itemHeight:4,itemGap:25,selectedMode:false,textStyle:{fontSize:12,color:'#222',fontFamily:FONT,padding:[0,0,0,4]}});

// panel letters
[['a',5,8],['b',8,219],['c',598,222],['d',8,435],['e',397,429],['f',596,427],['g',13,637],['h',293,638]].forEach(l=>T(l[1],l[2],l[0],{fs:19,align:'center',color:'#111'}));

const chart=echarts.init(document.getElementById('c'),null,{renderer:'canvas'});
chart.setOption({animation:false,backgroundColor:'#fff',textStyle:{fontFamily:FONT},
  grid:grids,xAxis:xAxes,yAxis:yAxes,series:series,legend:legends,graphic:graphic,
  visualMap:[{type:'continuous',min:1,max:7,dimension:2,seriesIndex:[eDenseIdx,ePtsIdx],inRange:{color:['#132B43','#56B1F7']},
    left:559,top:447,itemWidth:5,itemHeight:49,text:null,calculable:false,padding:0,orient:'vertical',hoverLink:false}]});
</script></body></html>
